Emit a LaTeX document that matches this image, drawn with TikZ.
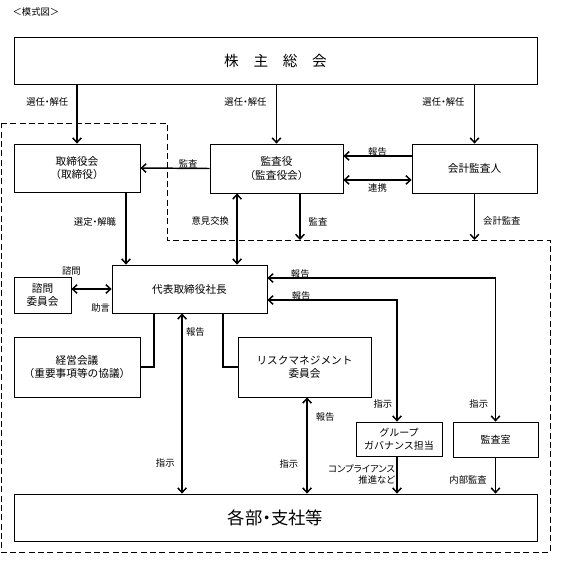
\documentclass[tikz,border=0pt]{standalone}
\usepackage{fontspec}
\setmainfont{Noto Sans CJK JP}
\newfontfamily\labelfont[RawFeature=+palt]{Noto Sans CJK JP}
\usetikzlibrary{arrows.meta,positioning}

\tikzset{
  box/.style={draw,line width=0.6pt,align=center,inner sep=0pt,font=\fontsize{8}{10}\selectfont},
  bigbox/.style={box,font=\fontsize{11}{13}\selectfont},
  lbl/.style={inner sep=1pt,font=\labelfont\fontsize{7}{8.5}\selectfont},
  conn/.style={line width=1.1pt},
  arr/.style={conn,-{Straight Barb[length=3.5pt,width=6.5pt]}},
  biarr/.style={conn,{Straight Barb[length=3.5pt,width=6.5pt]}-{Straight Barb[length=3.5pt,width=6.5pt]}},
  area/.style={line width=0.75pt,dash pattern=on 4.5pt off 2.5pt}
}

\begin{document}
\begin{tikzpicture}[x=0.75pt,y=-0.75pt]
\useasboundingbox (0,0) rectangle (567,567);

%TITLE
\node[lbl,anchor=west] (title) at (11,12) {＜模式図＞};

%EXECUTION AREA
\coordinate (a1) at (1,123);
\coordinate (a2) at (167,123);
\coordinate (a3) at (167,240);
\coordinate (a4) at (550,240);
\coordinate (a5) at (550,552);
\coordinate (a6) at (1,552);
\draw[area] (a1) -- (a2) -- (a3) -- (a4) -- (a5) -- (a6) -- cycle;

%BOXES
\node[bigbox,minimum width=392.25pt,minimum height=35.25pt] (meeting) at (275.5,60.5) {株　主　総　会};
\node[box,minimum width=94.5pt,minimum height=36pt] (board) at (77,168) {取締役会\\（取締役）};
\node[box,minimum width=99.75pt,minimum height=36.75pt] (auditors) at (276.5,168.5) {監査役\\（監査役会）};
\node[box,minimum width=93.75pt,minimum height=36.75pt] (accountant) at (474.5,168.5) {会計監査人};
\node[box,minimum width=116.25pt,minimum height=36pt] (president) at (189.5,289) {代表取締役社長};
\node[box,minimum width=42.75pt,minimum height=27pt] (advisory) at (42.5,295) {諮問\\委員会};
\node[box,minimum width=94.5pt,minimum height=45pt] (mgmt) at (77,367) {経営会議\\（重要事項等の協議）};
\node[box,minimum width=99.75pt,minimum height=45pt] (risk) at (304.5,367) {リスクマネジメント\\委員会};
\node[box,minimum width=64.5pt,minimum height=25.5pt,font=\fontsize{7.5}{10}\selectfont] (governance) at (399,439) {グループ\\ガバナンス担当};
\node[box,minimum width=63.75pt,minimum height=26.25pt,font=\fontsize{7.5}{10}\selectfont] (auditroom) at (495.5,439.5) {監査室};
\node[bigbox,minimum width=392.25pt,minimum height=35.25pt,font=\labelfont\fontsize{13}{15}\selectfont] (branches) at (275.5,517.5) {各部・支社等};

%ARROWS
% from the shareholders meeting
\draw[arr] (meeting.south -| board) -- (board.north) node[lbl,pos=0.3,left=5pt] {選任・解任};
\draw[arr] (meeting.south -| auditors) -- (auditors.north) node[lbl,pos=0.3,left=6pt] {選任・解任};
\draw[arr] (meeting.south -| accountant) -- (accountant.north) node[lbl,pos=0.3,left=6pt] {選任・解任};

% audit side
\draw[arr] (auditors.west) -- (board.east) node[lbl,pos=0.31,above=-1.5pt] {監査};
\draw[arr] ([yshift=9.4pt]accountant.west) -- ([yshift=9.4pt]accountant.west -| auditors.east) node[lbl,midway,above=-1.5pt] {報告};
\draw[biarr] ([yshift=-8.6pt]accountant.west) -- ([yshift=-8.6pt]accountant.west -| auditors.east) node[lbl,midway,below=1pt] {連携};
\draw[arr] ([xshift=17.6pt]auditors.south) -- ([xshift=17.6pt]auditors.south |- a3) node[lbl,pos=0.6,right=5pt] {監査};
\draw[arr] (accountant.south) -- (accountant.south |- a4) node[lbl,pos=0.6,right=5pt] {会計監査};
\draw[biarr] ([xshift=-29.6pt]auditors.south) -- ([xshift=-29.6pt]auditors.south |- president.north) node[lbl,pos=0.39,left=4.5pt] {意見交換};

% board and president
\draw[arr] ([xshift=36.75pt]board.south) -- ([xshift=36.75pt]board.south |- president.north) node[lbl,pos=0.41,left=6pt] {選定・解職};
\draw[biarr] (advisory.east |- president.west) -- (president.west);
\node[lbl,anchor=south] (ask) at (advisory.north east) {諮問};
\node[lbl,anchor=south east] (advice) at (president.south west) {助言};
\draw[conn] ([xshift=-26.6pt]president.south) |- (mgmt.east);
\draw[conn] ([xshift=25.1pt]president.south) |- (risk.west);

% instructions and reports
\draw[biarr] ([xshift=-5.6pt]president.south) -- ([xshift=-5.6pt]president.south |- branches.north)
  node[lbl,pos=0.105,right=1.5pt] {報告} node[lbl,pos=0.83,left=4pt] {指示};
\draw[biarr] ([xshift=1.9pt]risk.south) -- ([xshift=1.9pt]risk.south |- branches.north)
  node[lbl,pos=0.2,right=5pt] {報告} node[lbl,pos=0.69,left=5pt] {指示};
\draw[biarr] ([xshift=-1.5pt]governance.north) |- ([yshift=-8.25pt]president.east)
  node[lbl,pos=0.87,above=-1.5pt] {報告} node[lbl,pos=0.074,left=2pt] {指示};
\draw[biarr] (auditroom.north) |- ([yshift=8.25pt]president.east)
  node[lbl,pos=0.928,above=-1.5pt] {報告} node[lbl,pos=0.0625,left=4pt] {指示};
\draw[arr] ([xshift=-1.5pt]governance.south) -- ([xshift=-1.5pt]governance.south |- branches.north)
  node[lbl,pos=0.48,left=0pt,align=right] {コンプライアンス\\推進など};
\draw[arr] (auditroom.south) -- (auditroom.south |- branches.north)
  node[lbl,pos=0.61,left=5pt] {内部監査};

\end{tikzpicture}
\end{document}
